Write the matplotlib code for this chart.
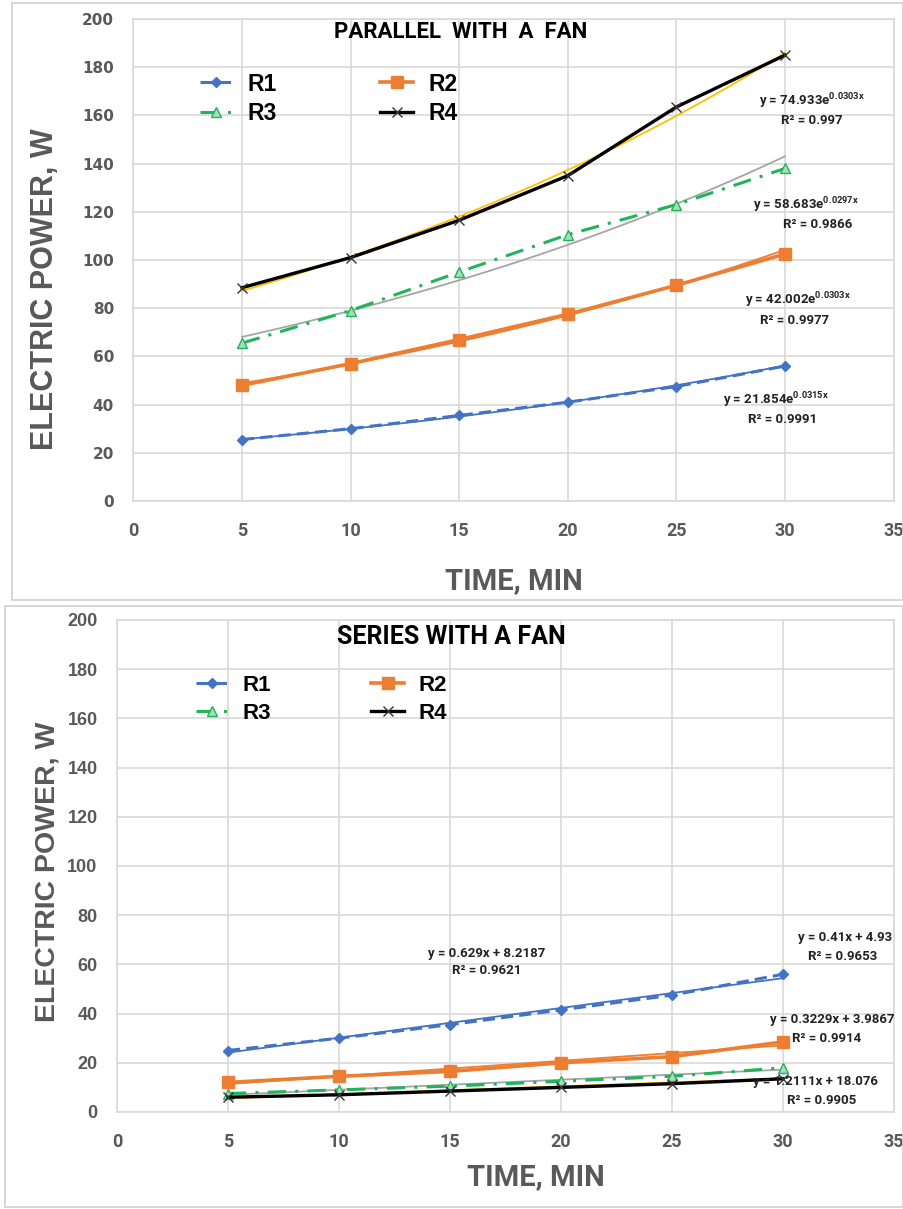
import numpy as np
import matplotlib
matplotlib.use("Agg")
import matplotlib.pyplot as plt
from matplotlib.lines import Line2D
from matplotlib.patches import Rectangle

# ---------------- data ----------------
time_min = [5, 10, 15, 20, 25, 30]

par_R1 = [25.5, 30, 35.5, 41, 47.5, 56]
par_R2 = [48, 57, 67, 77.5, 89.5, 102.5]
par_R3 = [65.5, 79, 95, 110.5, 123, 138]
par_R4 = [88.5, 101, 116.5, 135, 163.5, 185]

ser_R1 = [25, 30, 35.5, 41.5, 47.5, 56]
ser_R2 = [12, 14.5, 16.5, 20, 22.5, 28.5]
ser_R3 = [7.5, 9, 10.5, 12.5, 14.5, 18]
ser_R4 = [6, 7, 8.5, 10, 11.5, 13.5]

# exponential trendline coefficients (a, b): y = a*exp(b*x)
par_trend = {"R1": (21.854, 0.0315), "R2": (42.002, 0.0303),
             "R3": (58.683, 0.0297), "R4": (74.933, 0.0303)}
par_r2 = {"R1": "0.9991", "R2": "0.9977", "R3": "0.9866", "R4": "0.997"}
# linear trendline coefficients (m, c): y = m*x + c
ser_trend = {"R1": (1.2111, 18.076), "R2": (0.629, 8.2187),
             "R3": (0.41, 4.93), "R4": (0.3229, 3.9867)}
ser_r2 = {"R1": "0.9905", "R2": "0.9621", "R3": "0.9653", "R4": "0.9914"}

series_names = ["R1", "R2", "R3", "R4"]
x_ticks = [0, 5, 10, 15, 20, 25, 30, 35]
y_ticks = [0, 20, 40, 60, 80, 100, 120, 140, 160, 180, 200]

# ---------------- style ----------------
NARROW = ["Roboto", "DejaVu Sans"]
ARIAL = ["Liberation Sans", "DejaVu Sans"]
plt.rcParams["mathtext.fontset"] = "custom"
plt.rcParams["mathtext.rm"] = "Roboto:bold"
plt.rcParams["mathtext.it"] = "Roboto:italic:bold"
plt.rcParams["mathtext.bf"] = "Roboto:bold"

BLUE = "#4472C4"
ORANGE = "#ED7D31"
GREEN = "#23B35A"
BLACK = "#000000"
GRAY_T = "#A5A5A5"
GOLD = "#FFC000"
TXT = "#595959"
GRID = "#D9D9D9"

styles = {
    "R1": dict(color=BLUE, ls=(0, (4, 2)), lw=2.2, marker="D", ms=5,
               mfc=BLUE, mec=BLUE),
    "R2": dict(color=ORANGE, ls="-", lw=2.6, marker="s", ms=8,
               mfc=ORANGE, mec=ORANGE),
    "R3": dict(color=GREEN, ls=(0, (6, 3, 1, 3)), lw=2.2, marker="^", ms=7,
               mfc="#A9DDB8", mec=GREEN),
    "R4": dict(color=BLACK, ls="-", lw=2.4, marker="x", ms=7,
               mfc=BLACK, mec="#333333"),
}
trend_colors = {"R1": BLUE, "R2": ORANGE, "R3": GRAY_T, "R4": GOLD}

fig = plt.figure(figsize=(9.04, 12.09), dpi=100)

# panel frames
W, H = 904.0, 1209.0
fig.patches.append(Rectangle((12 / W, 1 - 600 / H), (903 - 12) / W, (600 - 3) / H,
                             transform=fig.transFigure, fill=False,
                             ec="#D0D0D0", lw=1.2))
fig.patches.append(Rectangle((5 / W, 0.002), (903 - 5) / W, 1 - 606 / H - 0.002,
                             transform=fig.transFigure, fill=False,
                             ec="#D0D0D0", lw=1.2))


def setup_axes(ax, ylab_xy, ylab_size, xlab_xy, title, title_y, title_size):
    ax.set_xlim(0, 35)
    ax.set_ylim(0, 200)
    ax.set_xticks(x_ticks)
    ax.set_yticks(y_ticks)
    ax.grid(True, color=GRID, lw=1.2)
    ax.set_axisbelow(True)
    for s in ax.spines.values():
        s.set_color(GRID)
        s.set_linewidth(1.2)
    ax.tick_params(axis="y", length=0, pad=14, colors=TXT)
    ax.tick_params(axis="x", length=0, pad=15, colors=TXT)
    for lab in ax.get_yticklabels():
        lab.set_fontsize(11)
        lab.set_fontweight("bold")
        lab.set_color(TXT)
    for lab in ax.get_xticklabels():
        lab.set_fontsize(13)
        lab.set_fontweight("bold")
        lab.set_family(NARROW)
        lab.set_color(TXT)
    ax.set_ylabel("ELECTRIC POWER, W", fontsize=ylab_size, fontweight="bold",
                  color=TXT, family=ARIAL)
    ax.yaxis.set_label_coords(*ylab_xy)
    ax.set_xlabel("TIME, MIN", fontsize=21, fontweight="bold", color=TXT,
                  family=NARROW)
    ax.xaxis.set_label_coords(*xlab_xy)
    ax.text(0.43, title_y, title, transform=ax.transAxes, ha="center",
            va="center", fontsize=title_size, fontweight="bold", family=NARROW)


def add_legend(ax, anchor, size):
    handles = {n: Line2D([], [], **styles[n]) for n in series_names}
    order = ["R1", "R3", "R2", "R4"]
    ax.legend([handles[n] for n in order], order, ncol=2, loc="upper left",
              bbox_to_anchor=anchor, frameon=False, handlelength=1.45,
              columnspacing=4.5, labelspacing=0.3, handletextpad=0.65,
              borderpad=0, borderaxespad=0,
              prop=dict(size=size, weight="bold", family=ARIAL))


xs_fit = np.linspace(5, 30, 60)

# ---------------- top: parallel ----------------
ax1 = fig.add_axes([133.4 / W, 1 - 501 / H, 760.2 / W, 482 / H])
par_data = {"R1": par_R1, "R2": par_R2, "R3": par_R3, "R4": par_R4}
for n in series_names:
    a, b = par_trend[n]
    ax1.plot(xs_fit, a * np.exp(b * xs_fit), color=trend_colors[n],
             lw=1.3, zorder=2)
for n in series_names:
    ax1.plot(time_min, par_data[n], zorder=3, **styles[n])
setup_axes(ax1, (-0.097, 0.44), 22, (0.50, -0.138),
           "PARALLEL  WITH  A  FAN", 0.972, 16)
add_legend(ax1, (0.087, 0.889), 16.5)

eq_font = dict(fontsize=9.5, fontweight="bold", family=NARROW, ha="center",
               va="center", color="#222222")
par_label_pos = {"R4": (812, 101), "R3": (806, 205), "R2": (798, 300),
                 "R1": (776, 400)}
par_r2_pos = {"R4": (812, 121), "R3": (818, 224), "R2": (795, 320),
              "R1": (783, 420)}
for n in series_names:
    a, b = par_trend[n]
    px, py = par_label_pos[n]
    fig.text(px / W, 1 - py / H,
             "y = %se$^{\\mathregular{%sx}}$" % (("%.3f" % a), ("%.4f" % b)),
             **eq_font)
    rx, ry = par_r2_pos[n]
    fig.text(rx / W, 1 - ry / H, "R² = " + par_r2[n], **eq_font)

# ---------------- bottom: series ----------------
ax2 = fig.add_axes([117 / W, 1 - 1112 / H, 777 / W, 492 / H])
ser_data = {"R1": ser_R1, "R2": ser_R2, "R3": ser_R3, "R4": ser_R4}
for n in series_names:
    m, c = ser_trend[n]
    ax2.plot(xs_fit, m * xs_fit + c, color=trend_colors[n], lw=1.3, zorder=2)
for n in series_names:
    ax2.plot(time_min, ser_data[n], zorder=3, **styles[n])
setup_axes(ax2, (-0.073, 0.488), 20.5, (0.539, -0.103),
           "SERIES WITH A FAN", 0.965, 18)
for lab in ax2.get_yticklabels():
    lab.set_family(ARIAL)
    lab.set_fontsize(13)
add_legend(ax2, (0.102, 0.888), 16)

ser_label_pos = {"R2": (487, 953), "R3": (845, 937), "R4": (832, 1019),
                 "R1": (816, 1082)}
ser_r2_pos = {"R2": (487, 971), "R3": (843, 956), "R4": (827, 1039),
              "R1": (822, 1101)}
for n in series_names:
    m, c = ser_trend[n]
    px, py = ser_label_pos[n]
    fig.text(px / W, 1 - py / H, "y = %gx + %g" % (m, c), **eq_font)
    rx, ry = ser_r2_pos[n]
    fig.text(rx / W, 1 - ry / H, "R² = " + ser_r2[n], **eq_font)

fig.savefig("out.png", dpi=100)
